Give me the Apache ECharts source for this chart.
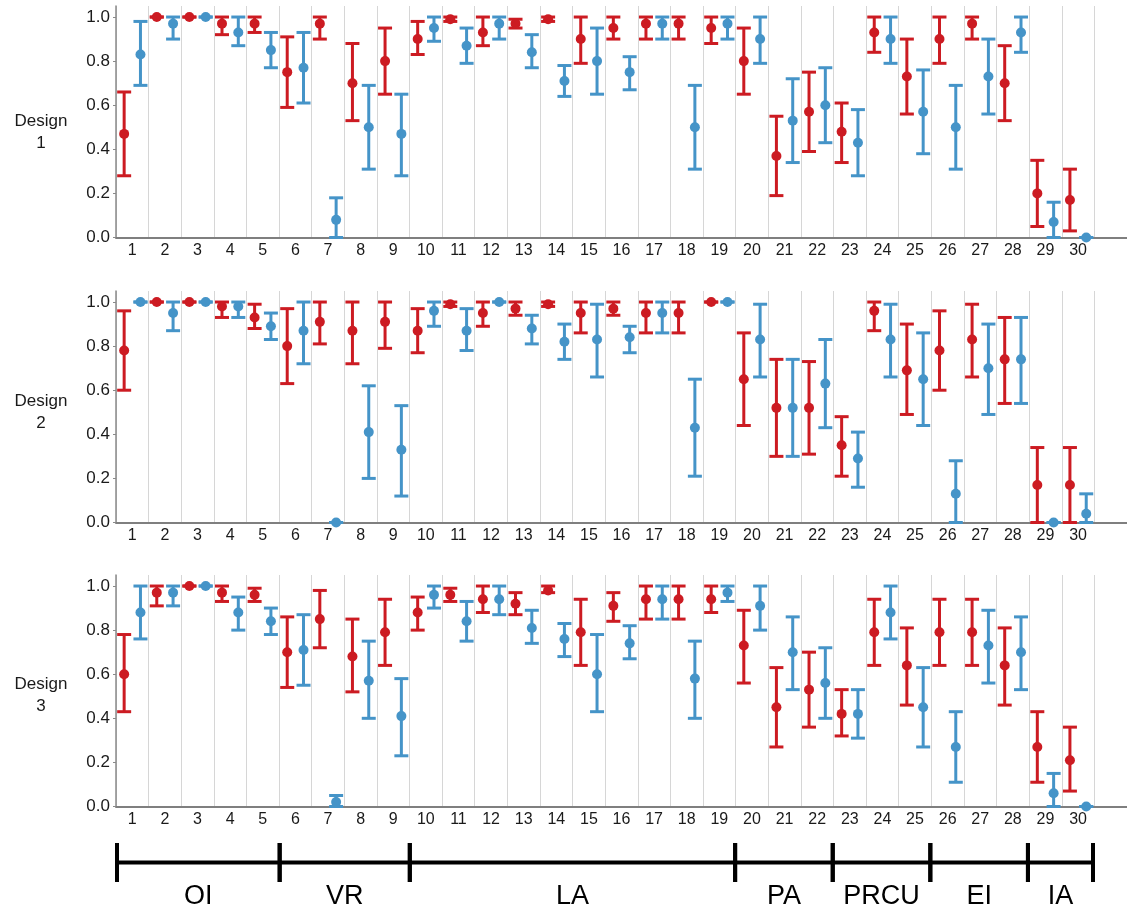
<!DOCTYPE html>
<html>
<head>
<meta charset="utf-8">
<script src="https://cdn.jsdelivr.net/npm/echarts@6/dist/echarts.min.js"></script>
<style>
  html, body { margin: 0; padding: 0; background: #fff; }
  #chart { width: 1127px; height: 914px; }
</style>
</head>
<body>
<div id="chart"></div>
<script>
// categories 1..30
const categories = Array.from({ length: 30 }, (_, i) => String(i + 1));
const yTicks = [0, 0.2, 0.4, 0.6, 0.8, 1.0];

// [mean, low, high] per category
const d1Red = [
  [0.47,0.28,0.66],[1,1,1],[1,1,1],[0.97,0.92,1],[0.97,0.93,1],
  [0.75,0.59,0.91],[0.97,0.90,1],[0.70,0.53,0.88],[0.80,0.65,0.95],[0.90,0.83,0.98],
  [0.99,0.98,1],[0.93,0.87,1],[0.97,0.95,0.99],[0.99,0.98,1],[0.90,0.79,1],
  [0.95,0.90,1],[0.97,0.90,1],[0.97,0.90,1],[0.95,0.88,1],[0.80,0.65,0.95],
  [0.37,0.19,0.55],[0.57,0.39,0.75],[0.48,0.34,0.61],[0.93,0.84,1],[0.73,0.56,0.90],
  [0.90,0.79,1],[0.97,0.90,1],[0.70,0.53,0.87],[0.20,0.05,0.35],[0.17,0.03,0.31]
];
const d1Blue = [
  [0.83,0.69,0.98],[0.97,0.90,1],[1,1,1],[0.93,0.87,1],[0.85,0.77,0.93],
  [0.77,0.61,0.93],[0.08,0,0.18],[0.50,0.31,0.69],[0.47,0.28,0.65],[0.95,0.89,1],
  [0.87,0.79,0.95],[0.97,0.90,1],[0.84,0.77,0.92],[0.71,0.64,0.78],[0.80,0.65,0.95],
  [0.75,0.67,0.82],[0.97,0.90,1],[0.50,0.31,0.69],[0.97,0.90,1],[0.90,0.79,1],
  [0.53,0.34,0.72],[0.60,0.43,0.77],[0.43,0.28,0.58],[0.90,0.79,1],[0.57,0.38,0.76],
  [0.50,0.31,0.69],[0.73,0.56,0.90],[0.93,0.84,1],[0.07,0,0.16],[0,0,0]
];
const d2Red = [
  [0.78,0.60,0.96],[1,1,1],[1,1,1],[0.98,0.93,1],[0.93,0.88,0.99],
  [0.80,0.63,0.97],[0.91,0.81,1],[0.87,0.72,1],[0.91,0.79,1],[0.87,0.77,0.97],
  [0.99,0.98,1],[0.95,0.89,1],[0.97,0.94,1],[0.99,0.98,1],[0.95,0.86,1],
  [0.97,0.94,1],[0.95,0.86,1],[0.95,0.86,1],[1,1,1],[0.65,0.44,0.86],
  [0.52,0.30,0.74],[0.52,0.31,0.73],[0.35,0.21,0.48],[0.96,0.87,1],[0.69,0.49,0.90],
  [0.78,0.60,0.96],[0.83,0.66,0.99],[0.74,0.54,0.93],[0.17,0,0.34],[0.17,0,0.34]
];
const d2Blue = [
  [1,1,1],[0.95,0.87,1],[1,1,1],[0.98,0.93,1],[0.89,0.83,0.95],
  [0.87,0.72,1],[0,0,0],[0.41,0.20,0.62],[0.33,0.12,0.53],[0.96,0.89,1],
  [0.87,0.78,0.97],[1,1,1],[0.88,0.81,0.94],[0.82,0.74,0.90],[0.83,0.66,0.99],
  [0.84,0.77,0.89],[0.95,0.86,1],[0.43,0.21,0.65],[1,1,1],[0.83,0.66,0.99],
  [0.52,0.30,0.74],[0.63,0.43,0.83],[0.29,0.16,0.41],[0.83,0.66,0.99],[0.65,0.44,0.86],
  [0.13,0,0.28],[0.70,0.49,0.90],[0.74,0.54,0.93],[0,0,0],[0.04,0,0.13]
];
const d3Red = [
  [0.60,0.43,0.78],[0.97,0.91,1],[1,1,1],[0.97,0.93,1],[0.96,0.93,0.99],
  [0.70,0.54,0.86],[0.85,0.72,0.98],[0.68,0.52,0.85],[0.79,0.64,0.94],[0.88,0.80,0.95],
  [0.96,0.93,0.99],[0.94,0.88,1],[0.92,0.87,0.97],[0.98,0.97,1],[0.79,0.64,0.94],
  [0.91,0.84,0.97],[0.94,0.85,1],[0.94,0.85,1],[0.94,0.88,1],[0.73,0.56,0.89],
  [0.45,0.27,0.63],[0.53,0.36,0.70],[0.42,0.32,0.53],[0.79,0.64,0.94],[0.64,0.46,0.81],
  [0.79,0.64,0.94],[0.79,0.64,0.94],[0.64,0.46,0.81],[0.27,0.11,0.43],[0.21,0.07,0.36]
];
const d3Blue = [
  [0.88,0.76,1],[0.97,0.91,1],[1,1,1],[0.88,0.80,0.95],[0.84,0.78,0.90],
  [0.71,0.55,0.87],[0.02,0,0.05],[0.57,0.40,0.75],[0.41,0.23,0.58],[0.96,0.90,1],
  [0.84,0.75,0.93],[0.94,0.87,1],[0.81,0.74,0.89],[0.76,0.68,0.83],[0.60,0.43,0.78],
  [0.74,0.67,0.82],[0.94,0.85,1],[0.58,0.40,0.75],[0.97,0.93,1],[0.91,0.80,1],
  [0.70,0.53,0.86],[0.56,0.40,0.72],[0.42,0.31,0.53],[0.88,0.76,1],[0.45,0.27,0.63],
  [0.27,0.11,0.43],[0.73,0.56,0.89],[0.70,0.53,0.86],[0.06,0,0.15],[0,0,0]
];

// groups of categories shown in the bracket under the charts
const groupNames = ['OI', 'VR', 'LA', 'PA', 'PRCU', 'EI', 'IA'];
const groupEnds = [5, 9, 19, 22, 25, 28, 30];

const designNames = ['Design\n1', 'Design\n2', 'Design\n3'];
const designData = [[d1Red, d1Blue], [d2Red, d2Blue], [d3Red, d3Blue]];

const RED = '#cc1b22';
const BLUE = '#4594c8';
const FONT = '"Liberation Sans", Arial, sans-serif';

const chart = echarts.init(document.getElementById('chart'));

// grids for the three panels
const panelTops = [6, 291, 575];
const panelHeight = 231.5;
const labelY = [132, 412, 695];

function errorBar(offset) {
  return function (params, api) {
    const i = api.value(0);
    const c = api.coord([i, api.value(1)]);
    const lo = api.coord([i, api.value(2)]);
    const hi = api.coord([i, api.value(3)]);
    const band = api.size([1, 0])[0];
    const x = c[0] + offset * band;
    const cap = 7;
    const color = api.visual('color');
    const ls = { stroke: color, lineWidth: 3 };
    return {
      type: 'group',
      children: [
        { type: 'line', shape: { x1: x, y1: hi[1], x2: x, y2: lo[1] }, style: ls },
        { type: 'line', shape: { x1: x - cap, y1: hi[1], x2: x + cap, y2: hi[1] }, style: ls },
        { type: 'line', shape: { x1: x - cap, y1: lo[1], x2: x + cap, y2: lo[1] }, style: ls },
        { type: 'circle', shape: { cx: x, cy: c[1], r: 5 }, style: { fill: color } }
      ]
    };
  };
}

const grid = [], xAxis = [], yAxis = [], series = [];

panelTops.forEach((top, k) => {
  grid.push({ left: 116, right: -2, top: top, height: panelHeight });
  xAxis.push({
    type: 'category',
    gridIndex: k,
    data: categories.concat(['']),
    boundaryGap: true,
    axisLine: { lineStyle: { color: '#7f7f7f', width: 2 } },
    axisTick: { show: false },
    axisLabel: { interval: 0, fontSize: 16, color: '#1a1a1a', margin: 5, fontFamily: FONT },
    splitLine: { show: true, interval: 0, lineStyle: { color: '#d6d6d6', width: 1 } }
  });
  yAxis.push({
    type: 'value',
    gridIndex: k,
    min: 0,
    max: 1.05,
    axisLine: { show: true, lineStyle: { color: '#8a8a8a', width: 1.5 } },
    axisTick: { show: true, length: 3, customValues: yTicks, lineStyle: { color: '#8a8a8a' } },
    axisLabel: {
      customValues: yTicks,
      formatter: v => v.toFixed(1),
      fontSize: 17, color: '#1a1a1a', margin: 6, fontFamily: FONT
    },
    splitLine: { show: false }
  });
  const [red, blue] = designData[k];
  series.push({
    type: 'custom',
    name: 'red',
    xAxisIndex: k, yAxisIndex: k,
    itemStyle: { color: RED },
    renderItem: errorBar(-0.25),
    encode: { x: 0, y: [1, 2, 3] },
    data: red.map((d, i) => [i, d[0], d[1], d[2]]),
    z: 3
  });
  series.push({
    type: 'custom',
    name: 'blue',
    xAxisIndex: k, yAxisIndex: k,
    itemStyle: { color: BLUE },
    renderItem: errorBar(0.25),
    encode: { x: 0, y: [1, 2, 3] },
    data: blue.map((d, i) => [i, d[0], d[1], d[2]]),
    z: 3
  });
});

// bracket grid
grid.push({ left: 117, width: 976, top: 843, height: 39 });
xAxis.push({ type: 'value', gridIndex: 3, min: 0, max: 30, show: false });
yAxis.push({ type: 'value', gridIndex: 3, min: 0, max: 1, show: false });

const groupData = groupNames.map((n, i) => [i === 0 ? 0 : groupEnds[i - 1], groupEnds[i], n]);
series.push({
  type: 'custom',
  xAxisIndex: 3, yAxisIndex: 3,
  encode: { x: [0, 1] },
  data: groupData,
  renderItem: function (params, api) {
    const s = api.value(0), e = api.value(1);
    const p0 = api.coord([s, 0.5]);
    const p1 = api.coord([e, 0.5]);
    const t = api.coord([s, 1])[1];
    const b = api.coord([s, 0])[1];
    const ls = { stroke: '#000', lineWidth: 4 };
    return {
      type: 'group',
      children: [
        { type: 'line', shape: { x1: p0[0], y1: p0[1], x2: p1[0], y2: p1[1] }, style: ls },
        { type: 'line', shape: { x1: p0[0], y1: t, x2: p0[0], y2: b }, style: ls },
        { type: 'line', shape: { x1: p1[0], y1: t, x2: p1[0], y2: b }, style: ls },
        {
          type: 'text',
          style: {
            text: groupData[params.dataIndex][2],
            x: (p0[0] + p1[0]) / 2, y: p0[1] + 34,
            align: 'center', verticalAlign: 'middle',
            fontSize: 27, fontFamily: FONT, fill: '#000'
          }
        }
      ]
    };
  }
});

chart.setOption({
  backgroundColor: '#fff',
  animation: false,
  grid: grid,
  xAxis: xAxis,
  yAxis: yAxis,
  series: series,
  graphic: designNames.map((name, k) => ({
    type: 'text',
    style: {
      text: name,
      x: 41, y: labelY[k],
      align: 'center', verticalAlign: 'middle',
      fontSize: 17, lineHeight: 22, fontFamily: FONT, fill: '#1a1a1a'
    }
  }))
});
</script>
</body>
</html>
